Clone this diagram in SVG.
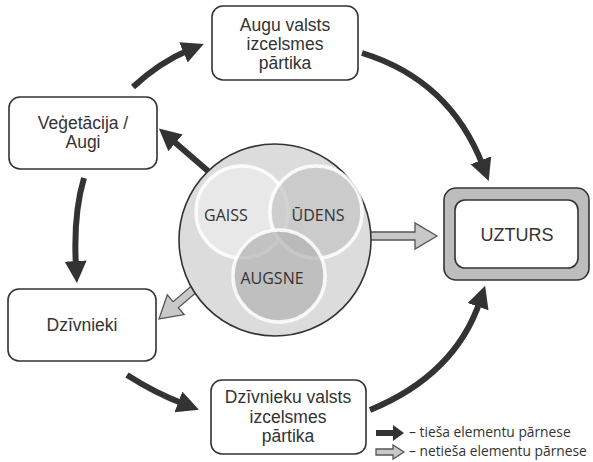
<svg xmlns="http://www.w3.org/2000/svg" width="593" height="462" viewBox="0 0 593 462">
  <style>
    .box { fill: #ffffff; stroke: #333333; stroke-width: 1.6; }
    .lbl { font-family: "Liberation Sans", Arial, sans-serif; font-size: 17.5px; fill: #333333; text-anchor: middle; }
    .venn { font-family: "Open Sans", "Liberation Sans", sans-serif; font-size: 16px; fill: #333333; text-anchor: middle; }
    .leg { font-family: "Open Sans", "Liberation Sans", sans-serif; font-size: 13.8px; fill: #333333; }
    .flow { fill: none; stroke: #333333; stroke-width: 6; marker-end: url(#head); }
    .hollow { fill: #c8c8c8; stroke: #555555; stroke-width: 1.3; stroke-linejoin: miter; }
    .solid { fill: #333333; stroke: none; }
  </style>
  <defs>
    <marker id="head" markerUnits="userSpaceOnUse" markerWidth="24" markerHeight="24" refX="6" refY="11" orient="auto">
      <path d="M0,0 L22,11 L0,22 Z" fill="#333333"/>
    </marker>
  </defs>

  <!-- connectors -->
  <g id="connectors">
    <path class="flow" d="M133,87 Q160,62 189,50"/>
    <path class="flow" d="M362,53 Q450,80 483,166"/>
    <path class="flow" d="M370,410 Q455,375 480,301"/>
    <path class="flow" d="M84,178 Q73,215 76,267"/>
    <path class="flow" d="M127,375 Q155,393 184,404"/>
    <path class="flow" d="M208,171 L171,139"/>
    <!-- indirect transfer arrows -->
    <polygon class="hollow" points="368,232 415,232 415,223 437,236 415,249 415,240 368,240"/>
    <polygon class="hollow" transform="translate(159,319) rotate(139.5)" points="-60,-4 -22,-4 -22,-13 0,0 -22,13 -22,4 -60,4"/>
  </g>

  <!-- environment: air, water, soil -->
  <g id="node-vide">
    <circle cx="275" cy="240" r="96" fill="#dcdcdc" stroke="#333333" stroke-width="1.6"/>
    <circle cx="242" cy="212" r="46" fill="#ececec" fill-opacity="0.7" stroke="#ffffff" stroke-opacity="0.85" stroke-width="3.5"/>
    <circle cx="316" cy="212" r="46" fill="#c6c6c6" fill-opacity="0.75" stroke="#ffffff" stroke-opacity="0.85" stroke-width="3.5"/>
    <circle cx="279" cy="276" r="46" fill="#b2b2b2" fill-opacity="0.7" stroke="#ffffff" stroke-opacity="0.85" stroke-width="3.5"/>
    <text class="venn" x="226" y="221">GAISS</text>
    <text class="venn" x="318" y="221">ŪDENS</text>
    <text class="venn" x="272" y="284">AUGSNE</text>
  </g>

  <g id="node-augu">
    <rect class="box" x="212" y="6" width="146" height="74" rx="11"/>
    <text class="lbl" x="285" y="31">Augu valsts</text>
    <text class="lbl" x="285" y="50">izcelsmes</text>
    <text class="lbl" x="285" y="69">pārtika</text>
  </g>

  <g id="node-vegetacija">
    <rect class="box" x="9" y="97" width="148" height="72" rx="11"/>
    <text class="lbl" x="83" y="129">Veģetācija /</text>
    <text class="lbl" x="83" y="148">Augi</text>
  </g>

  <g id="node-dzivnieki">
    <rect class="box" x="8" y="289" width="148" height="72" rx="11"/>
    <text class="lbl" x="82" y="331">Dzīvnieki</text>
  </g>

  <g id="node-dzivnieku-valsts">
    <rect class="box" x="211" y="380" width="155" height="74" rx="11"/>
    <text class="lbl" x="288" y="403">Dzīvnieku valsts</text>
    <text class="lbl" x="288" y="423">izcelsmes</text>
    <text class="lbl" x="288" y="442">pārtika</text>
  </g>

  <g id="node-uzturs">
    <rect x="444" y="188" width="145" height="92" rx="12" fill="#bdbdbd" stroke="#333333" stroke-width="1.6"/>
    <rect x="455" y="200" width="123" height="68" rx="10" fill="#ffffff" stroke="#333333" stroke-width="1.6"/>
    <text class="lbl" x="517" y="241" style="font-size:18px">UZTURS</text>
  </g>

  <!-- legend -->
  <g id="legend">
    <polygon class="solid" points="376,430 393,430 393,425 404,433 393,441 393,436 376,436"/>
    <text class="leg" x="409" y="437">– tieša elementu pārnese</text>
    <polygon class="hollow" points="376,449 393,449 393,445 404,452 393,459 393,455 376,455"/>
    <text class="leg" x="409" y="456">– netieša elementu pārnese</text>
  </g>
</svg>
